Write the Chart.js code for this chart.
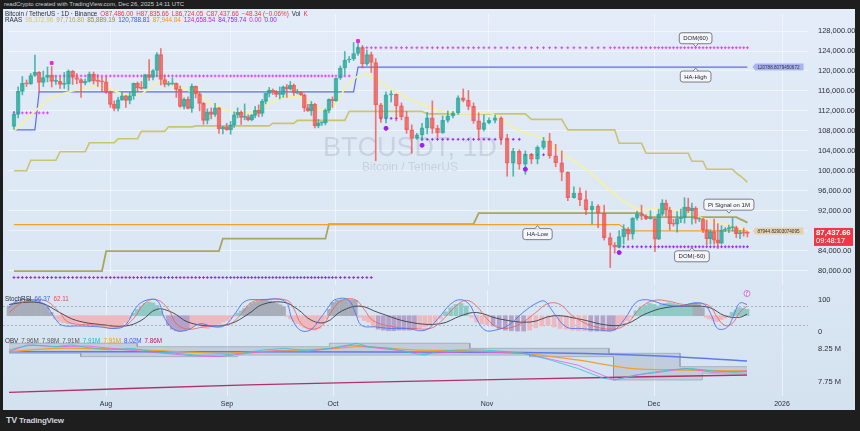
<!DOCTYPE html>
<html><head><meta charset="utf-8">
<script src="https://cdn.jsdelivr.net/npm/chart.js@4.4.1/dist/chart.umd.min.js"></script>
<style>
html,body{margin:0;padding:0;width:860px;height:431px;overflow:hidden;background:#1e1e1e;font-family:"Liberation Sans",Arial,sans-serif}
#frame{position:absolute;left:3px;top:9px;width:852px;height:401px;background:linear-gradient(180deg,#e3ecf8 0%,#dbe7f4 60%,#d4e2f0 100%)}
canvas{position:absolute;left:3px}
.t{position:absolute;white-space:nowrap;font-size:6.3px;line-height:8px;color:#2a2e39}
.t span{margin-right:3px}
</style></head><body>
<div id="frame"></div>
<canvas id="cMain" width="852" height="281" style="top:9px;width:852px;height:281px"></canvas>
<canvas id="cStoch" width="852" height="46" style="top:290px;width:852px;height:46px"></canvas>
<canvas id="cLow" width="852" height="74" style="top:336px;width:852px;height:74px"></canvas>
<div class="t" style="left:4px;top:0px;color:#c8ccd6;font-size:6px;line-height:8px">readCrypto created with TradingView.com, Dec 26, 2025 14:11 UTC</div>
<div class="t" id="leg1" style="left:5px;top:10px"></div>
<div class="t" id="leg2" style="left:5px;top:16px"></div>
<div class="t" id="leg3" style="left:5px;top:295px"></div>
<div class="t" id="leg4" style="left:5px;top:337px"></div>
<div class="t" style="left:6px;top:416px;color:#d1d4dc;font-size:8px;font-weight:bold;letter-spacing:-0.2px"><span style="font-size:9px;font-weight:900;margin-right:2px">TV</span>TradingView</div>
<script>
// ---------------- DATA ----------------
const startDate = '2025-07-09';           // first daily candle (index 0)
// BTC/USDT daily candles, values in thousands of USDT (Jul 9 .. Dec 26, 2025)
const open = [
108.9,111.3,115.9,117.5,117.4,119.1,119.8,117.7,118.7,119.2,117.9,117.9,117.3,117.4,120.0,118.7,118.3,117.6,117.9,119.4,118.0,117.9,117.8,
115.7,113.3,112.5,114.2,115.0,114.1,115.0,117.5,116.6,116.5,119.3,118.7,120.1,123.3,118.3,117.3,117.4,117.5,116.3,112.9,114.3,112.5,116.9,115.4,113.5,110.1,111.8,111.3,112.6,108.4,108.8,
108.2,109.2,111.2,111.7,110.7,110.7,110.2,111.1,112.1,111.5,113.9,115.5,116.1,115.9,115.3,115.3,116.8,116.4,117.1,115.6,115.7,115.2,112.6,112.0,113.3,109.0,109.6,109.6,112.1,114.3,
114.0,118.6,120.6,122.2,122.4,123.5,124.7,121.4,123.3,121.7,113.2,110.6,115.2,115.3,113.0,110.8,108.2,106.5,107.2,108.6,110.6,108.5,107.6,110.1,111.0,111.6,114.6,114.1,112.9,110.0,108.3,
109.6,110.1,110.6,106.5,101.5,103.9,101.3,103.3,102.3,104.7,106.0,103.0,101.6,99.7,94.6,95.5,94.2,92.2,92.9,91.5,86.6,85.1,84.7,86.8,88.3,87.3,90.5,91.3,90.9,90.4,
90.4,86.3,91.3,93.5,92.1,89.4,89.3,90.4,90.6,92.7,92.0,92.5,90.3,90.3,88.2,86.4,87.8,86.1,85.5,88.1,88.3,88.6,88.6,87.4,87.6,87.486];
const high = [
111.9,116.8,118.9,118.2,119.5,123.2,119.9,120.0,120.8,120.9,118.9,118.8,119.7,120.2,120.1,119.5,118.5,118.4,119.8,119.8,119.3,118.8,118.9,
116.0,114.0,114.7,115.7,115.1,115.7,117.6,117.8,117.9,119.3,122.3,120.3,123.7,124.5,119.2,117.9,118.6,117.6,117.0,114.6,114.8,117.4,117.0,115.8,113.7,112.4,112.6,113.5,112.7,108.9,109.5,
109.9,111.8,112.6,112.0,113.4,111.2,111.3,112.9,113.2,114.3,115.5,116.7,116.4,116.1,116.8,117.0,117.3,117.9,117.4,116.3,115.9,115.4,113.3,113.9,113.5,110.3,109.8,112.4,114.4,114.8,
118.6,121.0,123.9,122.9,125.7,126.2,125.1,124.2,123.8,122.5,113.5,115.8,116.0,115.4,113.6,111.9,109.2,107.5,109.5,111.7,114.0,109.1,111.0,112.0,111.9,115.0,116.4,116.1,113.6,111.6,111.2,
110.6,111.2,110.8,107.3,104.5,104.2,104.0,103.4,105.0,106.7,107.5,105.3,104.0,99.8,96.8,96.6,96.0,93.8,93.2,93.1,87.5,85.6,88.0,89.2,88.6,90.6,91.9,93.1,91.2,92.0,
90.4,92.3,94.2,94.1,92.7,90.3,91.8,92.3,94.6,94.5,93.5,92.8,90.6,90.5,90.1,88.2,90.3,89.4,89.0,88.6,89.1,90.5,88.9,88.0,88.5,87.836];
const low = [
108.3,110.6,115.2,116.9,117.3,118.9,115.7,116.9,117.8,116.8,117.3,116.5,116.5,116.1,117.3,117.4,114.7,117.2,117.8,117.4,116.9,115.8,115.5,
112.7,112.0,112.0,114.1,112.7,113.4,114.3,115.9,116.3,116.5,118.1,118.2,118.9,117.2,116.8,117.0,117.2,114.7,112.7,112.4,112.4,111.7,114.6,112.0,109.3,109.4,110.4,110.9,107.5,107.4,108.1,
107.3,108.7,110.6,109.3,110.2,110.0,110.0,110.6,110.8,110.9,113.4,114.8,115.3,114.8,114.4,114.7,114.7,116.2,115.1,115.4,115.1,111.9,111.9,111.1,108.6,108.6,109.1,109.2,111.6,112.7,
113.9,118.3,119.3,121.7,122.1,123.1,120.6,121.1,119.7,102.0,109.7,109.6,113.8,110.0,110.2,107.5,103.5,106.3,106.1,107.4,107.5,106.7,107.5,109.7,110.6,111.3,113.8,112.2,109.5,106.3,108.0,
109.4,109.6,105.3,98.9,98.9,100.3,99.3,101.4,101.4,104.3,102.5,100.8,98.0,94.0,94.5,93.0,91.2,89.3,88.6,86.1,80.6,83.5,84.6,85.3,86.1,86.3,90.1,90.2,90.2,90.3,
83.8,86.2,91.0,90.9,88.1,88.9,87.7,89.6,89.5,91.6,89.3,89.5,89.8,87.6,85.1,85.3,85.3,84.4,85.3,87.8,87.6,87.9,86.6,86.4,86.9,86.724];
const close = [
111.3,115.9,117.5,117.4,119.1,119.8,117.7,118.7,119.2,117.9,117.9,117.3,117.4,120.0,118.7,118.3,117.6,117.9,119.4,118.0,117.9,117.8,115.7,
113.3,112.5,114.2,115.0,114.1,115.0,117.5,116.6,116.5,119.3,118.7,120.1,123.3,118.3,117.3,117.4,117.5,116.3,112.9,114.3,112.5,116.9,115.4,113.5,110.1,111.8,111.3,112.6,108.4,108.8,108.2,
109.2,111.2,111.7,110.7,110.7,110.2,111.1,112.1,111.5,113.9,115.5,116.1,115.9,115.3,115.3,116.8,116.4,117.1,115.6,115.7,115.2,112.6,112.0,113.3,109.0,109.6,109.6,112.1,114.3,114.0,
118.6,120.6,122.2,122.4,123.5,124.7,121.4,123.3,121.7,113.2,110.6,115.2,115.3,113.0,110.8,108.2,106.5,107.2,108.6,110.6,108.5,107.6,110.1,111.0,111.6,114.6,114.1,112.9,110.0,108.3,109.6,
110.1,110.6,106.5,101.5,103.9,101.3,103.3,102.3,104.7,106.0,103.0,101.6,99.7,94.6,95.5,94.2,92.2,92.9,91.5,86.6,85.1,84.7,86.8,88.3,87.3,90.5,91.3,90.9,90.4,90.4,
86.3,91.3,93.5,92.1,89.4,89.3,90.4,90.6,92.7,92.0,92.5,90.3,90.3,88.2,86.4,87.8,86.1,85.5,88.1,88.3,88.6,88.6,87.4,87.6,87.486,87.438];

// indicator lines (date, value in k)
const emaLine = [['07-09',108.0],['07-12',110.3],['07-15',112.7],['07-17',114.2],['07-21',115.5],['07-25',116.4],['07-29',116.9],['07-31',116.7],['08-04',115.4],['08-08',115.1],['08-11',116.5],['08-14',117.8],['08-17',117.2],['08-22',115.8],['08-27',113.5],['09-01',111.9],['09-05',111.6],['09-08',111.9],['09-12',113.5],['09-17',114.8],['09-20',114.8],['09-23',113.8],['09-25',112.7],['09-28',112.2],['10-01',113.5],['10-03',116.4],['10-06',119.0],['10-08',119.3],['10-10',118.3],['10-13',116.4],['10-17',114.2],['10-22',112.2],['10-27',111.4],['11-01',111.6],['11-03',110.3],['11-06',108.0],['11-10',106.4],['11-13',103.5],['11-17',100.3],['11-20',97.1],['11-24',93.9],['11-28',92.2],['12-03',92.4],['12-08',91.8],['12-11',91.3],['12-15',90.1],['12-22',89.0],['12-26',88.2]];
const upperStep = [['07-09','07-12',100.0],['07-13','07-19',102.1],['07-20','07-26',103.8],['07-27','08-02',105.6],['08-03','08-08',106.4],['08-09','08-15',107.9],['08-16','08-22',108.8],['08-23','09-12',109.0],['09-13','09-19',109.5],['09-20','10-03',110.1],['10-04','10-19',111.9],['10-20','11-07',111.4],['11-08','11-13',110.3],['11-14','11-22',108.2],['11-23','11-28',105.5],['11-29','12-10',103.5],['12-11','12-14',101.9],['12-15','12-22',100.3],['12-23','12-23',99.5],['12-24','12-24',99.0],['12-25','12-25',98.4],['12-26','12-26',97.72]];
const lowerStep = [['07-09','07-30',79.9],['07-31','08-29',83.9],['08-30','09-28',86.4],['09-29','10-29',89.3],['10-30','11-28',91.5],['11-29','12-23',90.7],['12-24','12-24',90.3],['12-25','12-25',90.0],['12-26','12-26',89.6]];
const haHigh = [['07-09','07-14',108.2],['07-15','10-05',115.8],['10-06','12-26',120.79]];
const haLow = [['07-09','11-23',89.2],['11-25','12-26',87.94]];
const dom60 = [['07-09','07-17',111.6],['07-18','10-04',119.0],['10-06','12-26',124.66]];
const domM60 = [['07-09','10-09',78.6],['10-11','10-14',110.5],['10-19','11-06',106.3],['11-07','11-10',103.2],['11-23','12-26',84.76]];
const highMarks = [['07-18',121.6],['10-06',126.0]];
const lowMarks = [['10-12',108.5],['10-19',105.1],['11-07',100.3],['11-23',83.6]];
const callouts = [['12-12',124.66,'DOM(60)','above'],['12-12',120.79,'HA-High','below'],['11-09',89.2,'HA-Low','below'],['12-21',91.3,'Pi Signal on 1M','above'],['12-11',84.76,'DOM(-60)','below']];
const priceTicks = [80,84,88,92,96,100,104,108,112,116,120,124,128];
const monthTicks = ['2025-08-01','2025-09-01','2025-10-01','2025-11-01','2025-12-01','2026-01-01'];
const monthLabels = ['Aug','Sep','Oct','Nov','Dec','2026'];
// the reference time axis is drawn with uneven bar spacing: [date, offset across an 805-wide plot]
const timeAxisBreaks = [['2025-07-09',6],['2025-08-01',103],['2025-09-01',224],['2025-10-01',330],['2025-10-10',370],['2025-11-01',484],['2025-11-21',606],['2025-12-01',651],['2025-12-26',744],['2026-01-01',779]];

// Stoch pane (per-day histogram, line points as [day index, value])
const stochHist = [80,88,92,95,96,97,95,92,88,78,60, 40,32,28,25,24,26,28,25,22,20,18,15,
12,10,12,15,20,28,40, 58,70,80,88,92,90,82,65, 45, 20,8,3,2,3,8, 15,20,18,12,10,15,20,25,30,
35,42,48, 58,65,72,80,88,92,95,98,98,96,92,88,84,78, 48,40,32,25,18,12,8,5,5,10,25,40,
70,92,98,100,100,100,98, 45,35,30,15,8,5,3,3,5,5,5,8,12,15,20,30,40, 62,75,85,88,80,
45,30,25,22,18,10,5,3,2,2,5,12,18,20,15,10,8,5,3,3,2,2,2,3,5, 15,25,35,45,
65,75,82,88,85,80,85,88,90,88,85,82,80,85,88,90,85,75, 45,40,35,32,38,42,48, 60,68,75,72,70];
const stochShade = [['07-09','07-19','g'],['07-20','08-07','p'],['08-08','08-15','t'],['08-16','08-16','p'],['08-17','08-22','v'],['08-23','09-03','p'],['09-04','09-05','t'],['09-06','09-17','g'],['09-18','09-29','p'],['09-30','10-06','g'],['10-07','10-10','p'],['10-11','10-18','v'],['10-19','10-23','p'],['10-24','10-28','t'],['10-29','11-01','p'],['11-02','11-07','v'],['11-08','11-17','p'],['11-18','11-22','v'],['11-23','11-26','p'],['11-27','12-11','t'],['12-12','12-14','g'],['12-15','12-21','p'],['12-22','12-26','t']];
const stochK = [[0,75],[1.7,95],[5,100],[8.5,85],[11,40],[12.6,20],[16.8,18],[21.6,15],[25.3,10],[27.9,20],[31,80],[33.8,100],[36.3,95],[38.1,40],[40.7,5],[43.8,5],[47.1,25],[50.7,15],[53.5,20],[56.5,60],[59.1,95],[63.3,100],[70.4,95],[72.4,40],[74.7,5],[77.5,5],[80.3,40],[82.9,80],[84.4,100],[87.4,100],[89,60],[90.4,20],[93.5,15],[96.5,10],[99.5,10],[103.1,5],[105.5,40],[107.9,85],[109.8,100],[111.6,85],[113,40],[114.6,5],[116.4,5],[118.5,20],[120.9,60],[123.2,90],[124.5,95],[125.9,60],[128,15],[130.4,10],[133.6,5],[136.1,5],[138.5,40],[140.9,90],[142.8,100],[145,95],[147.7,85],[151.8,80],[155.9,90],[158.6,85],[160.5,50],[162.1,10],[164.8,15],[166.7,60],[168.1,90],[170,85]];
const stochD = [[0,60],[3,90],[6,100],[9,95],[12,60],[14,30],[18,22],[23,20],[27,15],[30,40],[33,90],[36,100],[39,70],[41,25],[44,8],[48,15],[52,20],[55,25],[58,55],[61,92],[65,100],[71,98],[73,70],[75,25],[78,8],[81,20],[84,70],[86,98],[89,100],[91,70],[93,35],[97,15],[101,10],[104,10],[106,30],[109,80],[111,98],[113,80],[115,40],[117,12],[120,20],[123,60],[125,88],[127,85],[129,50],[132,20],[136,8],[139,25],[142,75],[145,98],[149,95],[153,85],[157,88],[160,80],[162,45],[164,20],[166,25],[168,60],[170,80]];
const stochSlow = [[0,85],[4,92],[8,88],[12,60],[16,35],[22,22],[28,18],[32,35],[36,70],[40,60],[44,30],[50,18],[55,25],[60,55],[64,85],[70,92],[74,70],[78,35],[82,30],[86,65],[90,80],[94,60],[100,30],[106,25],[110,50],[113,60],[117,40],[122,30],[126,50],[130,40],[135,20],[139,25],[143,55],[148,75],[155,80],[160,75],[164,50],[168,45],[170,55]];
const stochLevels = [80,20];

// Lower pane (day index, value in millions)
const obvCyan = [[0,8.24],[3.1,8.29],[5.7,8.317],[10.9,8.29],[14.8,8.317],[18.7,8.275],[23.9,8.24],[29.6,8.265],[35.2,8.213],[40.8,8.188],[46.5,8.16],[52.1,8.16],[58.1,8.188],[64.3,8.24],[70.5,8.265],[76.7,8.225],[82.9,8.265],[87.6,8.317],[89.3,8.343],[92,8.29],[96.4,8.265],[100.8,8.188],[103,8.16],[105.2,8.213],[109.6,8.24],[114,8.24],[118.4,8.213],[121,8.188],[125.4,8.085],[129.8,7.956],[134.1,7.802],[136.2,7.776],[139.7,7.828],[143.3,7.879],[148.9,7.93],[154.8,7.956],[160.8,7.915],[166.8,7.895],[170,7.905]];
const obvMagenta = [[0,8.213],[4.4,8.317],[10.9,8.29],[18.7,8.30],[31,8.225],[45.1,8.15],[52.1,8.136],[59.6,8.188],[67.4,8.225],[76.7,8.213],[86.1,8.29],[88.6,8.317],[94.2,8.265],[103,8.188],[111.7,8.213],[121,8.188],[129.8,8.008],[136.2,7.776],[140.8,7.853],[146.4,7.895],[153.3,7.956],[160.8,7.895],[170,7.915]];
const obvOrange = [[0,8.213],[10.9,8.265],[23.9,8.255],[38,8.225],[52.1,8.188],[67.4,8.225],[82.9,8.255],[90.2,8.29],[100.8,8.24],[111.7,8.225],[121,8.188],[129.8,8.085],[139.7,7.956],[153.3,7.93],[170,7.915]];
const obvBlue = [[0,8.213],[60,8.21],[121,8.20],[145,8.15],[170,8.07]];
const obvMaroon = [[0,7.586],[60,7.70],[120,7.79],[170,7.853]];
const bandUpper = [[0,8.343],[31,8.343],[31,8.29],[83,8.29],[83,8.343],[111.7,8.343],[111.7,8.265],[135,8.265],[135,8.188],[152,8.188],[152,7.982],[170,7.982]];
const bandLower = [[0,8.188],[17,8.188],[17,8.136],[57,8.136],[57,8.16],[122,8.16],[122,8.136],[136,8.136],[136,7.776],[158,7.776],[158,7.879],[170,7.879]];
const obvTicks = [7.75, 8.25];

// legend texts
const legendRow1 = [['Bitcoin / TetherUS · 1D · Binance','#2a2e39'],['O87,486.00','#f23645'],['H87,835.66','#f23645'],['L86,724.05','#f23645'],['C87,437.66','#f23645'],['−48.34 (−0.06%)','#f23645'],['Vol','#2a2e39'],['K','#f23645']];
const legendRow2 = [['RAAS','#2a2e39'],['95,372.96','#d6cf3f'],['97,716.80','#b7b34f'],['85,889.19','#8f8c3c'],['120,788.81','#3f51e8'],['87,944.84','#f59b00'],['124,658.54','#d81bd8'],['84,759.74','#8e24f0'],['0.00','#d81bd8'],['0.00','#8e24f0']];
const legendStoch = [['StochRSI','#2a2e39'],['66.37','#3f6ee8'],['62.11','#e0514f']];
const legendObv = [['OBV','#2a2e39'],['7.96M','#555'],['7.98M','#555'],['7.91M','#555'],['7.91M','#17b6c4'],['7.91M','#f59b00'],['8.02M','#3f51e8'],['7.86M','#c2185b']];
const lastPrice = '87,437.66', countdown = '09:48:17';
const haHighTag = '120788.8079450672', haLowTag = '87944.82903074095';

// ---------------- HELPERS ----------------
function fillLegend(id, items){ document.getElementById(id).innerHTML = items.map(([t,c])=>'<span style="color:'+c+'">'+t+'</span>').join(''); }
fillLegend('leg1', legendRow1); fillLegend('leg2', legendRow2); fillLegend('leg3', legendStoch); fillLegend('leg4', legendObv);

const START = Date.UTC(2025,6,9);
function di(s){ const p = s.split('-').map(Number); let y=2025,m,d; if(p.length===3){[y,m,d]=p;} else {[m,d]=p;} return Math.round((Date.UTC(y,m-1,d)-START)/864e5); }
const N = close.length;
const idx = Array.from({length:N},(_,i)=>i);
const stepPts = segs => segs.flatMap(([a,b,v]) => a===b ? [{x:di(a),y:v}] : [{x:di(a),y:v},{x:di(b),y:v}]);
const dotPts = segs => segs.flatMap(([a,b,v]) => { const out=[]; for(let i=di(a);i<=di(b);i++) out.push({x:i,y:v}); return out; });
const datePts = arr => arr.map(([d,v])=>({x:di(d),y:v}));
const ixPts = arr => arr.map(([x,y])=>({x,y}));
const SHADE = {g:'#a7adb9', t:'#8fcac6', p:'#eeb8bf', v:'#b4a2c8'};
const shadeOf = []; stochShade.forEach(([a,b,k])=>{ for(let i=di(a);i<=di(b);i++) shadeOf[i]=SHADE[k]; });

// time scale with uneven bar spacing (as drawn in the reference)
const BREAKS = timeAxisBreaks.map(([d,o])=>[di(d),o]);
const REF_W = 805;
class WarpTimeScale extends Chart.LinearScale {
  _off(v){ let i=1; while(i<BREAKS.length-1 && v>BREAKS[i][0]) i++; const [v0,o0]=BREAKS[i-1],[v1,o1]=BREAKS[i]; return o0+(v-v0)*(o1-o0)/(v1-v0); }
  getPixelForValue(v){ return (v===null||v===undefined) ? NaN : this.left + this._off(v)/REF_W*this.width; }
  getValueForPixel(p){ const o=(p-this.left)/this.width*REF_W; let i=1; while(i<BREAKS.length-1 && o>BREAKS[i][1]) i++; const [v0,o0]=BREAKS[i-1],[v1,o1]=BREAKS[i]; return v0+(o-o0)*(v1-v0)/(o1-o0); }
}
WarpTimeScale.id = 'warptime';
WarpTimeScale.defaults = Chart.LinearScale.defaults;
Chart.register(WarpTimeScale);

Chart.defaults.font.family = '"Liberation Sans", Arial, sans-serif';
Chart.defaults.animation = false;
Chart.defaults.devicePixelRatio = 1;

const AXIS_W = 47;
const GRID = 'rgba(255,255,255,0.5)';
function xScale(labels){
  return { type:'warptime', min:-1.4, max:181, offset:false,
    grid:{color:GRID, drawTicks:false, offset:false}, border:{display:false},
    afterBuildTicks: ax => { ax.ticks = monthTicks.map(d=>({value:di(d)})); },
    afterFit: ax => { ax.height = labels ? 14 : 0; ax.paddingLeft = 0; ax.paddingRight = 0; },
    ticks:{display:labels, autoSkip:false, maxRotation:0, padding:4, color:'#2a2e39', font:{size:7}, callback:(v,i)=>monthLabels[i]} };
}
function yScale(min, max, ticks, fmt, grid){
  return { position:'right', min, max,
    grid:{display:grid, color:GRID, drawTicks:false}, border:{display:false},
    afterBuildTicks: ax => { ax.ticks = ticks.map(v=>({value:v})); },
    afterFit: ax => { ax.width = AXIS_W; ax.paddingTop = 0; ax.paddingBottom = 0; },
    ticks:{padding:10, color:'#2a2e39', font:{size:7.5}, callback:fmt} };
}
const common = { responsive:false, maintainAspectRatio:false, animation:false, devicePixelRatio:1,
  layout:{padding:0}, plugins:{legend:{display:false}, tooltip:{enabled:false}}, events:[] };

const UP_B = 'rgba(38,166,154,0.78)', DN_B = 'rgba(239,83,80,0.78)';
const isUp = idx.map(i => close[i] >= open[i]);

function roundRect(ctx,x,y,w,h,r){ ctx.beginPath(); ctx.moveTo(x+r,y); ctx.lineTo(x+w-r,y); ctx.quadraticCurveTo(x+w,y,x+w,y+r); ctx.lineTo(x+w,y+h-r); ctx.quadraticCurveTo(x+w,y+h,x+w-r,y+h); ctx.lineTo(x+r,y+h); ctx.quadraticCurveTo(x,y+h,x,y+h-r); ctx.lineTo(x,y+r); ctx.quadraticCurveTo(x,y,x+r,y); ctx.closePath(); }

const mainOverlay = {
  id:'mainOverlay',
  beforeDatasetsDraw(chart){
    const {ctx} = chart;
    ctx.save(); ctx.textAlign='center'; ctx.fillStyle='rgba(90,100,125,0.17)';
    ctx.font='27px "Liberation Sans", Arial'; ctx.fillText('BTCUSDT, 1D', 407, 147);
    ctx.font='12px "Liberation Sans", Arial'; ctx.fillText('Bitcoin / TetherUS', 407, 162);
    ctx.restore();
  },
  afterDraw(chart){
    const {ctx, scales:{x,y}, chartArea:a} = chart;
    ctx.save();
    ctx.font = '6px "Liberation Sans", Arial'; ctx.textBaseline='middle'; ctx.textAlign='center';
    callouts.forEach(([d,v,t,pos])=>{
      const px = x.getPixelForValue(di(d)), py = y.getPixelForValue(v);
      const w = ctx.measureText(t).width + 8, h = 11;
      const by = pos==='above' ? py - 4 - h : py + 4;
      roundRect(ctx, px - w/2, by, w, h, 2.5);
      ctx.fillStyle='#f4f6f9'; ctx.fill(); ctx.strokeStyle='#5d606b'; ctx.lineWidth=0.8; ctx.stroke();
      ctx.beginPath();
      if(pos==='above'){ ctx.moveTo(px-2.5,by+h); ctx.lineTo(px,by+h+3); ctx.lineTo(px+2.5,by+h); }
      else { ctx.moveTo(px-2.5,by); ctx.lineTo(px,by-3); ctx.lineTo(px+2.5,by); }
      ctx.fillStyle='#f4f6f9'; ctx.fill(); ctx.stroke();
      ctx.fillStyle='#1e222d'; ctx.fillText(t, px, by + h/2 + 0.5);
    });
    const lastX = x.getPixelForValue(N-1) + 5;
    [[haHighTag, 120.79, '#aab4f2'], [haLowTag, 87.94, '#e4d2ad']].forEach(([t,v,c])=>{
      const py = y.getPixelForValue(v);
      ctx.font='4.6px "Liberation Sans", Arial';
      const w = ctx.measureText(t).width + 6, h = 7;
      ctx.beginPath(); ctx.moveTo(lastX, py); ctx.lineTo(lastX+3, py-h/2); ctx.lineTo(lastX+3+w, py-h/2); ctx.lineTo(lastX+3+w, py+h/2); ctx.lineTo(lastX+3, py+h/2); ctx.closePath();
      ctx.fillStyle=c; ctx.fill();
      ctx.fillStyle='#333'; ctx.textAlign='left'; ctx.fillText(t, lastX+5, py+0.5);
    });
    const py = y.getPixelForValue(close[N-1]);
    ctx.fillStyle='#f23645'; ctx.fillRect(a.right+6, py-5.5, 39, 18);
    ctx.fillStyle='#fff'; ctx.textAlign='left';
    ctx.font='bold 7.8px "Liberation Sans", Arial'; ctx.fillText(lastPrice, a.right+8, py-0.5);
    ctx.font='7.5px "Liberation Sans", Arial'; ctx.fillText(countdown, a.right+8, py+7.5);
    ctx.restore();
  }
};

// ---------------- MAIN CHART ----------------
new Chart(document.getElementById('cMain'), {
  type:'bar',
  data:{ datasets:[
    {type:'line', data:dotPts(domM60), showLine:false, pointStyle:'cross', pointRadius:1.4, pointBorderWidth:1, pointBorderColor:'#9c27f5', order:9},
    {type:'line', data:dotPts(dom60), showLine:false, pointStyle:'cross', pointRadius:1.4, pointBorderWidth:1, pointBorderColor:'#e040fb', order:9},
    {type:'line', data:stepPts(lowerStep), borderColor:'#a9a65e', borderWidth:1.8, pointRadius:0, order:8},
    {type:'line', data:stepPts(haLow), borderColor:'#f5a126', borderWidth:1.2, pointRadius:0, order:7},
    {type:'line', data:stepPts(upperStep), borderColor:'#c9c56c', borderWidth:1.6, pointRadius:0, order:8},
    {type:'line', data:stepPts(haHigh), borderColor:'#5d6cf0', borderWidth:1.2, pointRadius:0, order:7},
    {type:'line', data:datePts(emaLine), borderColor:'#f4f1a6', borderWidth:1.8, pointRadius:0, cubicInterpolationMode:'monotone', order:6},
    {type:'bar', data:idx.map(i=>({x:i,y:[low[i],high[i]]})), backgroundColor:idx.map(i=>isUp[i]?UP_B:DN_B), barThickness:1, grouped:false, order:3},
    {type:'bar', data:idx.map(i=>({x:i,y:[open[i],close[i]]})), backgroundColor:idx.map(i=>isUp[i]?'rgba(38,166,154,0.34)':'rgba(239,83,80,0.18)'), borderColor:idx.map(i=>isUp[i]?UP_B:DN_B), borderWidth:1, borderSkipped:false, barThickness:4, minBarLength:1, grouped:false, order:2},
    {type:'line', data:datePts(highMarks), showLine:false, pointStyle:'rect', pointRadius:2, backgroundColor:'#e528e5', borderColor:'#e528e5', order:1},
    {type:'line', data:datePts(lowMarks), showLine:false, pointStyle:'circle', pointRadius:2, backgroundColor:'#9b1ff0', borderColor:'#9b1ff0', order:1}
  ]},
  options:{...common,
    scales:{ x:xScale(false),
      y:yScale(77.10, 131.42, priceTicks, v => (v*1000).toLocaleString('en-US',{minimumFractionDigits:2,maximumFractionDigits:2}), true) } },
  plugins:[mainOverlay]
});

// ---------------- STOCH CHART ----------------
const stochOverlay = {
  id:'stochOverlay',
  beforeDatasetsDraw(chart){
    const {ctx, scales:{y}, chartArea:a} = chart;
    ctx.save(); ctx.strokeStyle='rgba(120,125,140,0.6)'; ctx.lineWidth=0.8; ctx.setLineDash([2,2]);
    stochLevels.forEach(v=>{ const py=Math.round(y.getPixelForValue(v))+0.5; ctx.beginPath(); ctx.moveTo(a.left,py); ctx.lineTo(a.right,py); ctx.stroke(); });
    ctx.restore();
  },
  afterDraw(chart){
    const {ctx, scales:{x}} = chart;
    const px = x.getPixelForValue(N-1);
    ctx.save(); ctx.strokeStyle='#d64fd6'; ctx.fillStyle='#f6eef8'; ctx.lineWidth=0.8;
    ctx.beginPath(); ctx.arc(px, 3.5, 3, 0, Math.PI*2); ctx.fill(); ctx.stroke();
    ctx.fillStyle='#b030b0'; ctx.font='4.5px "Liberation Sans", Arial'; ctx.textAlign='center'; ctx.textBaseline='middle'; ctx.fillText('ƒ', px, 3.7);
    ctx.restore();
  }
};
new Chart(document.getElementById('cStoch'), {
  type:'bar',
  data:{ datasets:[
    {type:'bar', data:idx.map(i=>({x:i,y:[50,stochHist[i]]})), backgroundColor:idx.map(i=>shadeOf[i]), barThickness:4, grouped:false, order:5},
    {type:'line', data:ixPts(stochSlow), borderColor:'#3a3d45', borderWidth:0.9, pointRadius:0, tension:0.4, order:3},
    {type:'line', data:ixPts(stochD), borderColor:'#ef5a5a', borderWidth:0.8, pointRadius:0, tension:0.4, order:2},
    {type:'line', data:ixPts(stochK), borderColor:'#4f74ef', borderWidth:0.9, pointRadius:0, tension:0.4, order:1}
  ]},
  options:{...common, scales:{ x:xScale(false), y:yScale(-13.4, 130.3, [0,100], v=>String(v), false) } },
  plugins:[stochOverlay]
});

// ---------------- LOWER (OBV) CHART ----------------
new Chart(document.getElementById('cLow'), {
  type:'line',
  data:{ datasets:[
    {data:ixPts(bandUpper), borderColor:'rgba(130,135,150,0.6)', borderWidth:0.8, pointRadius:0, fill:'+1', backgroundColor:'rgba(140,148,165,0.28)', order:9},
    {data:ixPts(bandLower), borderColor:'rgba(130,135,150,0.6)', borderWidth:0.8, pointRadius:0, order:9},
    {data:ixPts(obvMaroon), borderColor:'#b0306a', borderWidth:1.3, pointRadius:0, tension:0.3, order:5},
    {data:ixPts(obvBlue), borderColor:'#5b7cf0', borderWidth:1.5, pointRadius:0, tension:0.3, order:4},
    {data:ixPts(obvOrange), borderColor:'#f0a030', borderWidth:1.3, pointRadius:0, tension:0.3, order:3},
    {data:ixPts(obvMagenta), borderColor:'#e55cf0', borderWidth:0.8, pointRadius:0, order:2},
    {data:ixPts(obvCyan), borderColor:'#28c6d6', borderWidth:0.8, pointRadius:0, order:1}
  ]},
  options:{...common, scales:{ x:xScale(true), y:yScale(7.529, 8.455, obvTicks, v=>v.toFixed(2)+' M', false) } }
});
</script>
</body></html>
